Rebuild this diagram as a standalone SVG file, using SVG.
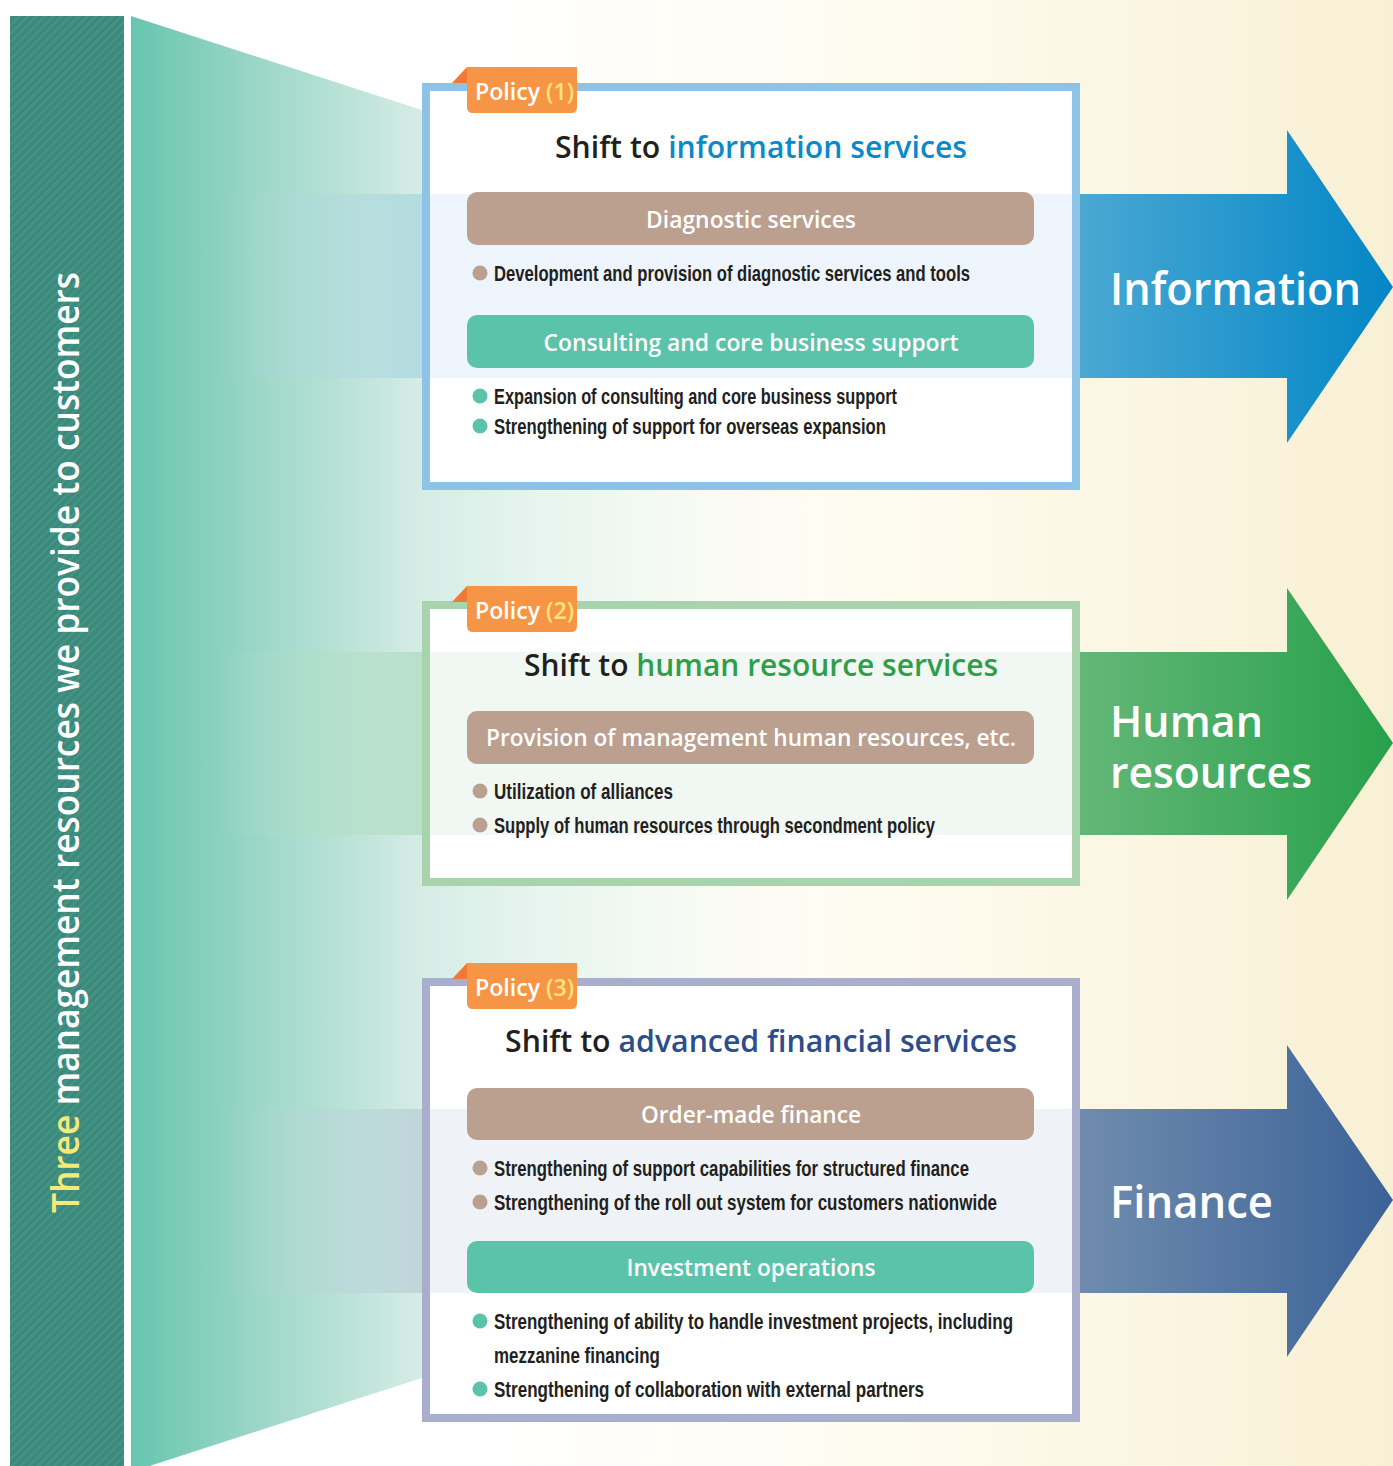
<svg xmlns="http://www.w3.org/2000/svg" width="1393" height="1466" viewBox="0 0 1393 1466">
<style>
.vt{font-family:"Open Sans","Noto Sans","Liberation Sans",sans-serif;font-weight:600;font-size:38px;fill:#ffffff}
.ttl{font-family:"Open Sans","Noto Sans","Liberation Sans",sans-serif;font-weight:600;font-size:31px;fill:#231f20}
.pill{font-family:"Open Sans","Noto Sans","Liberation Sans",sans-serif;font-weight:600;font-size:23px;fill:#ffffff}
.tab{font-family:"Open Sans","Noto Sans","Liberation Sans",sans-serif;font-weight:600;font-size:23px;fill:#ffffff}
.num{fill:#fde67c}
.bl{font-family:"Liberation Sans Narrow","Liberation Sans",sans-serif;font-weight:bold;font-size:22px;fill:#231f20}
.arw{font-family:"Open Sans","Noto Sans","Liberation Sans",sans-serif;font-weight:600;font-size:46px;fill:#ffffff}
.arw2{font-family:"Open Sans","Noto Sans","Liberation Sans",sans-serif;font-weight:600;font-size:44px;fill:#ffffff}
.tabbg{fill:#f79546}
.fold{fill:#ee7a35}
.brown{fill:#bba08f}
.teal{fill:#5cc3ab}
</style>
<defs>
<pattern id="hatch" patternUnits="userSpaceOnUse" width="6" height="6" patternTransform="rotate(45)">
<rect width="6" height="6" fill="#3a897b"/>
<rect width="2.5" height="6" fill="#449385"/>
</pattern>
<linearGradient id="bg" x1="0" y1="0" x2="1393" y2="0" gradientUnits="userSpaceOnUse">
<stop offset="0.35" stop-color="#ffffff"/>
<stop offset="0.65" stop-color="#fefbef"/>
<stop offset="1" stop-color="#f8f0d4"/>
</linearGradient>
<linearGradient id="funnel" x1="131" y1="0" x2="820" y2="0" gradientUnits="userSpaceOnUse">
<stop offset="0" stop-color="#67c5af"/>
<stop offset="0.2" stop-color="#a0d8c9"/>
<stop offset="0.42" stop-color="#d5ece5"/>
<stop offset="1" stop-color="#eef6f0" stop-opacity="0"/>
</linearGradient>
<linearGradient id="b1" x1="220" y1="0" x2="422" y2="0" gradientUnits="userSpaceOnUse">
<stop offset="0" stop-color="#a9d6da" stop-opacity="0"/>
<stop offset="1" stop-color="#b3dce0"/>
</linearGradient>
<linearGradient id="b2" x1="220" y1="0" x2="422" y2="0" gradientUnits="userSpaceOnUse">
<stop offset="0" stop-color="#aadcc4" stop-opacity="0"/>
<stop offset="1" stop-color="#b8e0c9"/>
</linearGradient>
<linearGradient id="b3" x1="220" y1="0" x2="422" y2="0" gradientUnits="userSpaceOnUse">
<stop offset="0" stop-color="#b0d3d4" stop-opacity="0"/>
<stop offset="1" stop-color="#bfd6db"/>
</linearGradient>
<linearGradient id="a1" x1="1080" y1="0" x2="1393" y2="0" gradientUnits="userSpaceOnUse">
<stop offset="0" stop-color="#4aa8d3"/>
<stop offset="1" stop-color="#0386c6"/>
</linearGradient>
<linearGradient id="a2" x1="1080" y1="0" x2="1393" y2="0" gradientUnits="userSpaceOnUse">
<stop offset="0" stop-color="#64b777"/>
<stop offset="1" stop-color="#27a04b"/>
</linearGradient>
<linearGradient id="a3" x1="1080" y1="0" x2="1393" y2="0" gradientUnits="userSpaceOnUse">
<stop offset="0" stop-color="#6f8cae"/>
<stop offset="1" stop-color="#3b6297"/>
</linearGradient>
</defs>

<rect x="0" y="0" width="1393" height="1466" fill="url(#bg)"/>

<g id="left-bar">
<rect x="10" y="16" width="114" height="1450" fill="url(#hatch)"/>
<text class="vt" transform="translate(79,1213) rotate(-90)" textLength="941" lengthAdjust="spacingAndGlyphs"><tspan fill="#f4e97a">Three</tspan> management resources we provide to customers</text>
</g>

<g id="funnel">
<polygon points="131,16 1080,323 1080,1165 131,1472" fill="url(#funnel)"/>
</g>

<g id="connectors">
<rect x="131" y="194" width="291" height="184" fill="url(#b1)"/>
<rect x="131" y="652" width="291" height="183" fill="url(#b2)"/>
<rect x="131" y="1109" width="291" height="184" fill="url(#b3)"/>
</g>

<g id="arrow-information">
<polygon points="1080,194 1287,194 1287,130 1393,287 1287,443 1287,378 1080,378" fill="url(#a1)"/>
<text class="arw" x="1110" y="305" textLength="251" lengthAdjust="spacingAndGlyphs">Information</text>
</g>
<g id="arrow-human-resources">
<polygon points="1080,652 1287,652 1287,588 1393,743 1287,900 1287,835 1080,835" fill="url(#a2)"/>
<text class="arw2" x="1110" y="737" textLength="153" lengthAdjust="spacingAndGlyphs">Human</text>
<text class="arw2" x="1110" y="788" textLength="202" lengthAdjust="spacingAndGlyphs">resources</text>
</g>
<g id="arrow-finance">
<polygon points="1080,1109 1287,1109 1287,1045 1393,1200 1287,1357 1287,1293 1080,1293" fill="url(#a3)"/>
<text class="arw" x="1110" y="1218" textLength="163" lengthAdjust="spacingAndGlyphs">Finance</text>
</g>

<g id="policy-1">
<rect x="426" y="87" width="650" height="399" fill="#ffffff" stroke="#8ec3e7" stroke-width="8"/>
<rect x="430" y="194" width="642" height="184" fill="#edf4fb"/>
<polygon class="fold" points="452,83 467,67 467,83"/>
<path class="tabbg" d="M467,67 H577 V107 Q577,113 571,113 H473 Q467,113 467,107 Z"/>
<text class="tab" x="475" y="100" textLength="99" lengthAdjust="spacingAndGlyphs">Policy <tspan class="num">(1)</tspan></text>
<text class="ttl" x="555" y="158" textLength="412" lengthAdjust="spacingAndGlyphs">Shift to <tspan fill="#0a8ac9">information services</tspan></text>
<rect class="brown" x="467" y="192" width="567" height="53" rx="10"/>
<text class="pill" x="751" y="228" text-anchor="middle" textLength="210" lengthAdjust="spacingAndGlyphs">Diagnostic services</text>
<circle class="brown" cx="480" cy="273" r="7.5"/>
<text class="bl" x="494" y="281" textLength="476" lengthAdjust="spacingAndGlyphs">Development and provision of diagnostic services and tools</text>
<rect class="teal" x="467" y="315" width="567" height="53" rx="10"/>
<text class="pill" x="751" y="351" text-anchor="middle" textLength="415" lengthAdjust="spacingAndGlyphs">Consulting and core business support</text>
<circle class="teal" cx="480" cy="396" r="7.5"/>
<text class="bl" x="494" y="404" textLength="403" lengthAdjust="spacingAndGlyphs">Expansion of consulting and core business support</text>
<circle class="teal" cx="480" cy="426" r="7.5"/>
<text class="bl" x="494" y="434" textLength="392" lengthAdjust="spacingAndGlyphs">Strengthening of support for overseas expansion</text>
</g>

<g id="policy-2">
<rect x="426" y="605" width="650" height="277" fill="#ffffff" stroke="#a9d3ad" stroke-width="8"/>
<rect x="430" y="652" width="642" height="183" fill="#f1f7f3"/>
<polygon class="fold" points="452,602 467,586 467,602"/>
<path class="tabbg" d="M467,586 H577 V626 Q577,632 571,632 H473 Q467,632 467,626 Z"/>
<text class="tab" x="475" y="619" textLength="99" lengthAdjust="spacingAndGlyphs">Policy <tspan class="num">(2)</tspan></text>
<text class="ttl" x="524" y="676" textLength="474" lengthAdjust="spacingAndGlyphs">Shift to <tspan fill="#2e9e4a">human resource services</tspan></text>
<rect class="brown" x="467" y="711" width="567" height="53" rx="10"/>
<text class="pill" x="751" y="746" text-anchor="middle" textLength="530" lengthAdjust="spacingAndGlyphs">Provision of management human resources, etc.</text>
<circle class="brown" cx="480" cy="791" r="7.5"/>
<text class="bl" x="494" y="799" textLength="179" lengthAdjust="spacingAndGlyphs">Utilization of alliances</text>
<circle class="brown" cx="480" cy="825" r="7.5"/>
<text class="bl" x="494" y="833" textLength="441" lengthAdjust="spacingAndGlyphs">Supply of human resources through secondment policy</text>
</g>

<g id="policy-3">
<rect x="426" y="982" width="650" height="436" fill="#ffffff" stroke="#a8aecb" stroke-width="8"/>
<rect x="430" y="1109" width="642" height="184" fill="#eff2f7"/>
<polygon class="fold" points="452,979 467,963 467,979"/>
<path class="tabbg" d="M467,963 H577 V1003 Q577,1009 571,1009 H473 Q467,1009 467,1003 Z"/>
<text class="tab" x="475" y="996" textLength="99" lengthAdjust="spacingAndGlyphs">Policy <tspan class="num">(3)</tspan></text>
<text class="ttl" x="505" y="1052" textLength="512" lengthAdjust="spacingAndGlyphs">Shift to <tspan fill="#2d4d8b">advanced financial services</tspan></text>
<rect class="brown" x="467" y="1088" width="567" height="52" rx="10"/>
<text class="pill" x="751" y="1123" text-anchor="middle" textLength="220" lengthAdjust="spacingAndGlyphs">Order-made finance</text>
<circle class="brown" cx="480" cy="1168" r="7.5"/>
<text class="bl" x="494" y="1176" textLength="475" lengthAdjust="spacingAndGlyphs">Strengthening of support capabilities for structured finance</text>
<circle class="brown" cx="480" cy="1202" r="7.5"/>
<text class="bl" x="494" y="1210" textLength="503" lengthAdjust="spacingAndGlyphs">Strengthening of the roll out system for customers nationwide</text>
<rect class="teal" x="467" y="1241" width="567" height="52" rx="10"/>
<text class="pill" x="751" y="1276" text-anchor="middle" textLength="249" lengthAdjust="spacingAndGlyphs">Investment operations</text>
<circle class="teal" cx="480" cy="1321" r="7.5"/>
<text class="bl" x="494" y="1329" textLength="519" lengthAdjust="spacingAndGlyphs">Strengthening of ability to handle investment projects, including</text>
<text class="bl" x="494" y="1363" textLength="166" lengthAdjust="spacingAndGlyphs">mezzanine financing</text>
<circle class="teal" cx="480" cy="1389" r="7.5"/>
<text class="bl" x="494" y="1397" textLength="430" lengthAdjust="spacingAndGlyphs">Strengthening of collaboration with external partners</text>
</g>
</svg>
